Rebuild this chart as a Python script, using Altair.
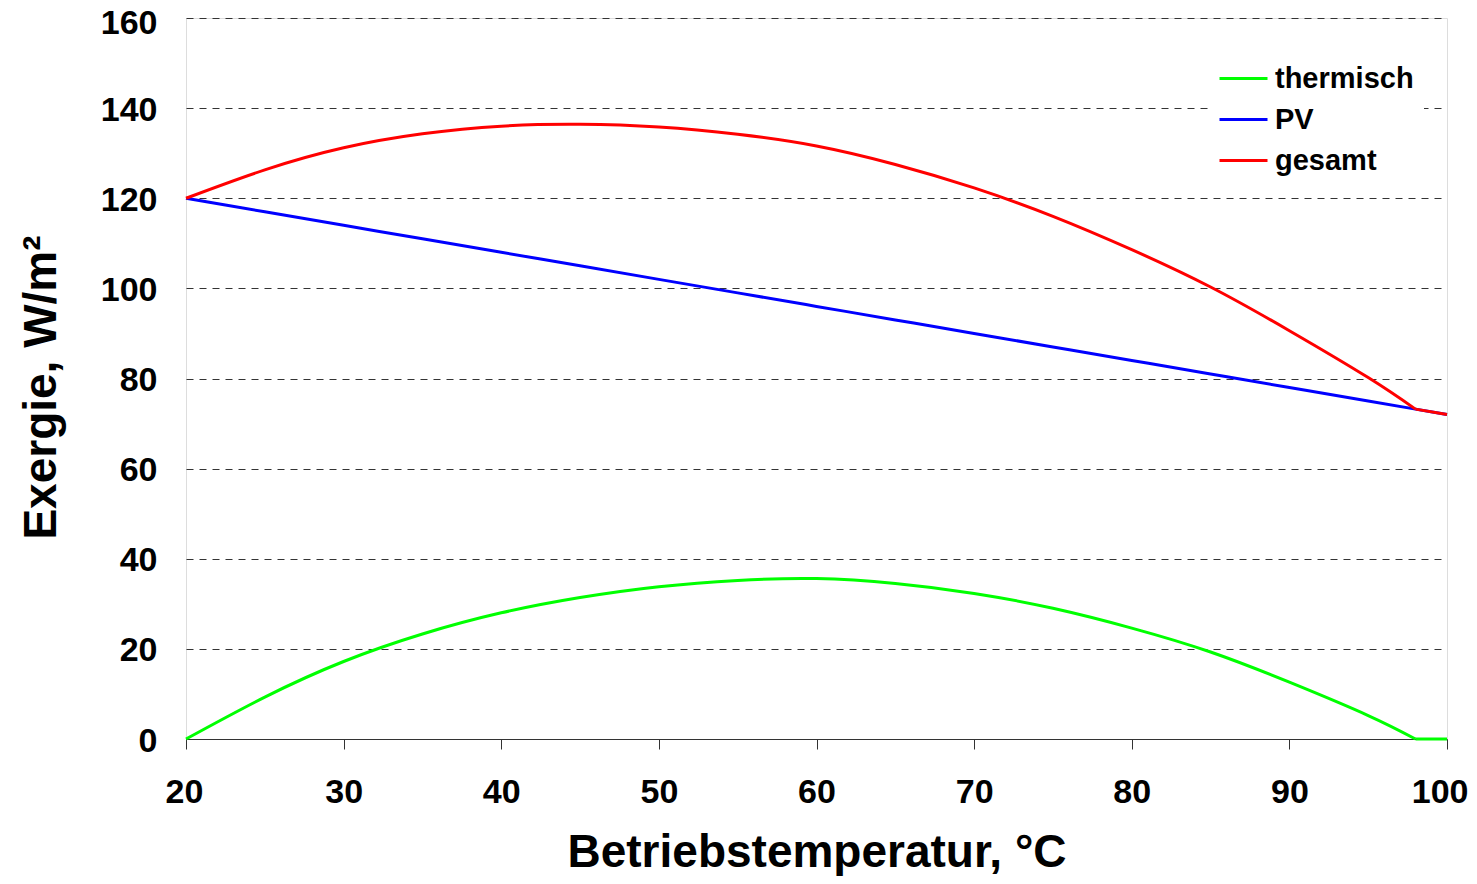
import altair as alt
import pandas as pd

temps = [20, 25, 30, 35, 40, 45, 50, 55, 60, 65, 70, 75, 80, 85, 90, 95, 98, 100]
thermisch = [0, 9.3, 17.2, 23.3, 28.0, 31.4, 33.8, 35.2, 35.6, 34.5, 32.3, 29.0, 24.6, 19.3, 12.6, 5.2, 0, 0]
pv = [120, 117, 114, 111, 108, 105, 102, 99, 96, 93, 90, 87, 84, 81, 78, 75, 73.2, 72]
gesamt = [120, 126.3, 131.2, 134.3, 136.0, 136.4, 135.8, 134.2, 131.6, 127.5, 122.3, 116.0, 108.6, 100.3, 90.6, 80.2, 73.2, 72]

series_names = ["thermisch", "PV", "gesamt"]
series_colors = ["#00ff00", "#0000ff", "#ff0000"]
kink_temp = 98

rows = []
for name, vals in zip(series_names, [thermisch, pv, gesamt]):
    for t, v in zip(temps, vals):
        if t <= kink_temp:
            rows.append({"serie": name, "T": t, "v": v, "seg": name + "_a"})
        if t >= kink_temp:
            rows.append({"serie": name, "T": t, "v": v, "seg": name + "_b"})
df = pd.DataFrame(rows)

font = "Liberation Sans"

chart = alt.Chart(df).mark_line(interpolate="natural", strokeWidth=3).encode(
    x=alt.X("T:Q",
            scale=alt.Scale(domain=[20, 100], nice=False, zero=False),
            axis=alt.Axis(values=list(range(20, 101, 10)), title="Betriebstemperatur, °C",
                          grid=False, domain=True, domainColor="#333333", domainWidth=1,
                          ticks=True, tickColor="#333333", tickSize=10, tickWidth=1,
                          labelFont=font, labelFontSize=34, labelFontWeight="bold", labelColor="black",
                          labelPadding=26, labelFlush=True, labelFlushOffset=21,
                          titleFont=font, titleFontSize=46, titleFontWeight="bold", titleColor="black",
                          titleY=127, titleBaseline="alphabetic")),
    y=alt.Y("v:Q",
            scale=alt.Scale(domain=[0, 160], nice=False),
            axis=alt.Axis(values=list(range(0, 161, 20)), title="Exergie, W/m²",
                          grid=True, gridColor="#333333", gridDash=[7, 6], gridWidth=1,
                          domain=False, ticks=False, tickSize=0,
                          labelFont=font, labelFontSize=34, labelFontWeight="bold", labelColor="black",
                          labelPadding=29,
                          labelOffset={"condition": {"test": "datum.value == 160", "value": 5}, "value": 2},
                          titleFont=font, titleFontSize=46, titleFontWeight="bold", titleColor="black",
                          titleAngle=270, titleX=-131, titleY=369, titleAlign="center",
                          titleBaseline="alphabetic")),
    color=alt.Color("serie:N",
                    scale=alt.Scale(domain=series_names, range=series_colors),
                    sort=series_names,
                    legend=alt.Legend(title=None, orient="none", legendX=1022, legendY=25,
                                      fillColor="white", padding=10,
                                      symbolType="stroke", symbolSize=2304, symbolStrokeWidth=3,
                                      labelFont=font, labelFontSize=29, labelFontWeight="bold",
                                      labelColor="black", labelOffset=6, rowPadding=0)),
    detail="seg:N",
    order=alt.Order("T:Q"),
).properties(
    width=1261, height=721,
    autosize="none",
    padding={"left": 178, "top": 10, "right": 22, "bottom": 137},
).configure_view(stroke=None).configure(background="white")

chart.save("out.html", embed_options={"renderer": "svg", "actions": False})
